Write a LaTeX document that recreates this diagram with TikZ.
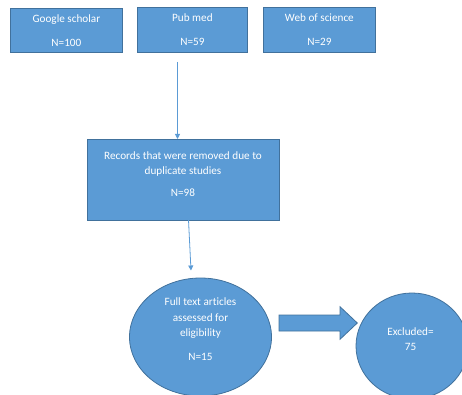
\documentclass[tikz,border=0pt]{standalone}
\usepackage{fontspec}
\setmainfont{Carlito}[Ligatures=NoCommon]
\usetikzlibrary{arrows.meta,shapes.geometric}
\definecolor{ofill}{HTML}{5B9BD5}
\definecolor{oline}{HTML}{41719C}
\tikzset{
  box/.style={draw=oline,fill=ofill,line width=0.8pt,inner sep=0pt,anchor=north west},
  txt/.style={text=white,font=\fontsize{11.2}{15.2}\selectfont,align=center,inner sep=0pt},
  conn/.style={draw=ofill,line width=0.8pt,-{Triangle[width=5pt,length=5pt]}},
  oval/.style={ellipse,draw=oline,fill=ofill,line width=0.8pt,inner sep=0pt},
  blockarrow/.style={draw=oline,fill=ofill,line width=0.8pt,line join=miter},
}
\begin{document}
\begin{tikzpicture}[x=1pt,y=-1pt]
\useasboundingbox (0,0) rectangle (462,395);
\clip (0,0) rectangle (462,395);
% top boxes
\node[box,minimum width=112,minimum height=44] (gs) at (10,8) {};
\node[txt] (gst) at (gs.center) {Google scholar\\[8.5pt]N=100};
\node[box,minimum width=110,minimum height=45] (pm) at (137,7) {};
\node[txt] (pmt) at (pm.center) {Pub med\\[8.5pt]N=59};
\node[box,minimum width=112,minimum height=45] (ws) at (263,7) {};
\node[txt] (wst) at (ws.center) {Web of science\\[8.5pt]N=29};
% records box
\node[box,minimum width=192,minimum height=81] (rec) at (87,139) {};
\node[txt] (rect) at (183,174) {Records that were removed due to\\duplicate studies\\[6pt]N=98};
% ellipses
\node[oval,minimum width=142,minimum height=118] (fta) at (200.5,337) {};
\node[txt] (ftat) at (200.5,329.5) {Full text articles\\assessed for\\eligibility\\[9.5pt]N=15};
\node[oval,minimum width=112,minimum height=106] (exc) at (412,346) {};
\node[txt] (exct) at (410.5,339) {Excluded=\\75};
% block arrow
\draw[blockarrow] (279,315) -- (340,315) -- (340,306.7) -- (357.3,323)
  -- (340,339.3) -- (340,331) -- (279,331) -- cycle;
% connectors
\coordinate (a1s) at (177.5,62);
\draw[conn] (a1s) -- (a1s |- rec.north);
\coordinate (a2s) at (188.5,220);
\coordinate (a2e) at (191,270.5);
\draw[conn] (a2s) -- (a2e);
\end{tikzpicture}
\end{document}
